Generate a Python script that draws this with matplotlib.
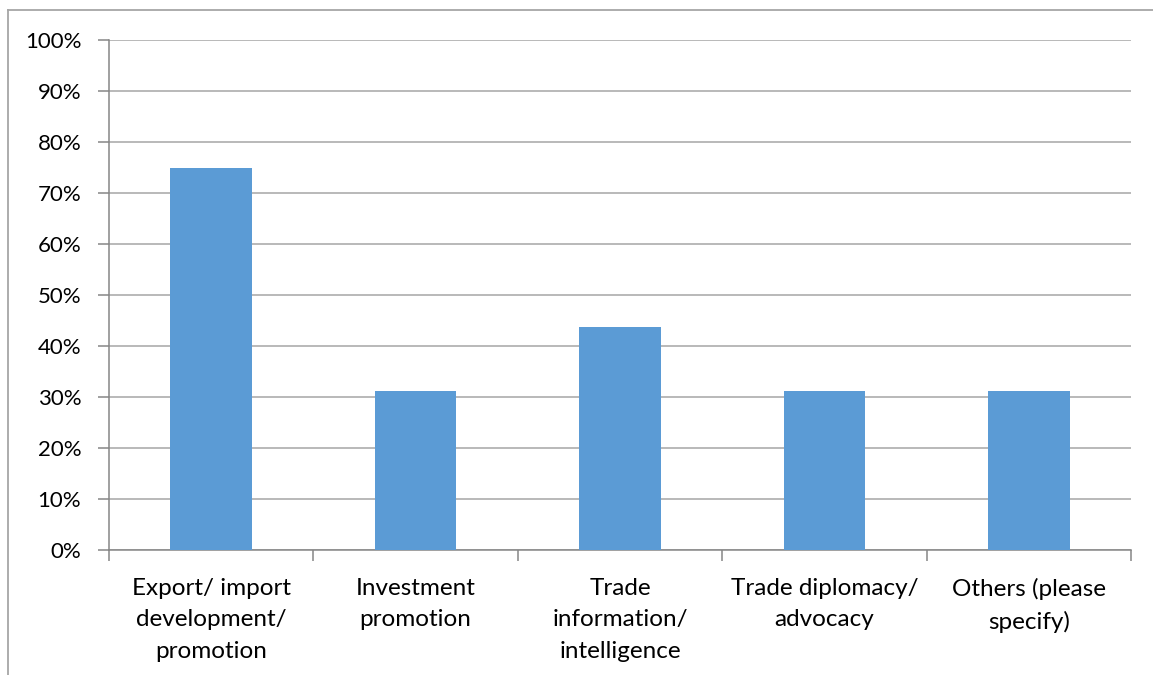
import numpy as np
import matplotlib.pyplot as plt
from matplotlib.lines import Line2D
from matplotlib.ticker import PercentFormatter

categories = [
    "Export/ import\ndevelopment/\npromotion",
    "Investment\npromotion",
    "Trade\ninformation/\nintelligence",
    "Trade diplomacy/\nadvocacy",
    "Others (please\nspecify)",
]
shares = [75.0, 31.25, 43.75, 31.25, 31.25]
y_ticks = [0, 10, 20, 30, 40, 50, 60, 70, 80, 90, 100]

W, H = 1153, 675
fig = plt.figure(figsize=(W / 100, H / 100), dpi=100)
plt.rcParams["font.family"] = ["Lato", "DejaVu Sans"]

# chart area frame (only left and top edges fall inside the image)
frame_color = "#a6a6a6"
fig.add_artist(Line2D([8 / W, 8 / W], [0, 1 - 10 / H], transform=fig.transFigure,
                      color=frame_color, lw=1.3))
fig.add_artist(Line2D([8 / W, 1], [1 - 10 / H, 1 - 10 / H], transform=fig.transFigure,
                      color=frame_color, lw=1.3))

ax = fig.add_axes([109 / W, (H - 550) / H, (1131 - 109) / W, (550 - 40) / H])

x = np.arange(len(categories))
ax.bar(x, shares, width=0.4, color="#5b9bd5", zorder=3)

ax.set_xlim(-0.5, len(categories) - 0.5)
ax.set_ylim(0, 100)
ax.set_yticks(y_ticks)
ax.yaxis.set_major_formatter(PercentFormatter(decimals=0))
ax.grid(axis="y", color="#a6a6a6", lw=1.1, zorder=0)

# category boundaries carry the x ticks
ax.set_xticks(np.arange(len(categories) + 1) - 0.5)
ax.set_xticklabels([])
ax.set_xticks(x, minor=True)
ax.set_xticklabels(categories, minor=True, fontsize=17.5, linespacing=1.62)
ax.tick_params(axis="x", which="minor", length=0, pad=20)
ax.tick_params(axis="x", which="major", length=8, color="#868686", width=1.1)
ax.tick_params(axis="y", length=8, color="#868686", width=1.1, labelsize=16, pad=12)

for side in ["top", "right"]:
    ax.spines[side].set_visible(False)
for side in ["left", "bottom"]:
    ax.spines[side].set_color("#868686")
    ax.spines[side].set_linewidth(1.1)

fig.savefig("out.png", dpi=100)
